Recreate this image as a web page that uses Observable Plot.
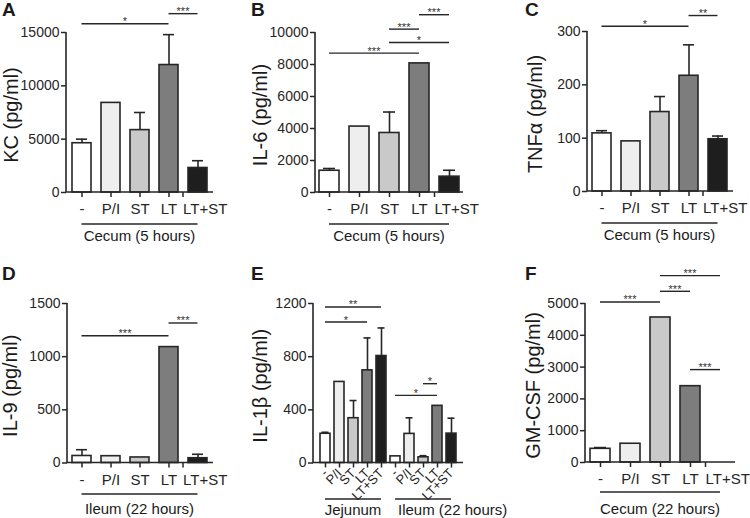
<!DOCTYPE html>
<html>
<head>
<meta charset="utf-8">
<script src="https://cdn.jsdelivr.net/npm/d3@7"></script>
<script src="https://cdn.jsdelivr.net/npm/@observablehq/plot@0.6"></script>
<style>
  html, body { margin: 0; padding: 0; background: #ffffff; }
  #fig { position: relative; width: 750px; height: 518px; overflow: hidden;
         font-family: "Liberation Sans", Arial, Helvetica, sans-serif; }
  .panel { position: absolute; }
  .panel svg { overflow: visible; }
  .letter { position: absolute; font-weight: bold; font-size: 19px; line-height: 1; color: #1a1a1a; }
</style>
</head>
<body>
<div id="fig"></div>
<script>
// ---------- data ----------
const cats = ["-", "P/I", "ST", "LT", "LT+ST"];
const barFills = ["#ffffff", "#eeeeee", "#c9c9c9", "#7d7d7d", "#1e1e1e"];

// A: KC, cecum 5 hours
const kcMean  = [4620, 8400, 5850, 11950, 2300];
const kcUpper = [5000, null, 7500, 14800, 2980];
const kcTicks = [0, 5000, 10000, 15000];
const kcSig = [["-", "LT", 15780, "*"], ["LT", "LT+ST", 16720, "***"]];

// B: IL-6, cecum 5 hours
const il6Mean  = [1360, 4120, 3720, 8070, 990];
const il6Upper = [1500, null, 5030, null, 1390];
const il6Ticks = [0, 2000, 4000, 6000, 8000, 10000];
const il6Sig = [["-", "LT", 8680, "***"], ["ST", "LT+ST", 9340, "*"], ["ST", "LT", 10180, "***"], ["LT", "LT+ST", 11080, "***"]];

// C: TNFa, cecum 5 hours
const tnfMean  = [109, 94, 149, 217, 98];
const tnfUpper = [114, null, 178, 275, 104];
const tnfTicks = [0, 100, 200, 300];
const tnfSig = [["-", "LT", 309, "*"], ["LT", "LT+ST", 329, "**"]];

// D: IL-9, ileum 22 hours
const il9Mean  = [66, 64, 52, 1090, 45];
const il9Upper = [125, null, null, null, 82];
const il9Ticks = [0, 500, 1000, 1500];
const il9Sig = [["-", "LT", 1192, "***"], ["LT", "LT+ST", 1312, "***"]];

// E: IL-1b, jejunum and ileum 22 hours
const il1bGroups = ["Jejunum", "Ileum"];
const il1bJejMean  = [220, 610, 337, 697, 805];
const il1bJejUpper = [231, null, 470, 941, 1016];
const il1bIleMean  = [50, 219, 43, 430, 221];
const il1bIleUpper = [null, 340, 55, null, 337];
const il1bTicks = [0, 400, 800, 1200];
const il1bSig = [["Jejunum|-", "Jejunum|LT+ST", 1170, "**"], ["Jejunum|-", "Jejunum|LT", 1057, "*"],
                 ["Ileum|-", "Ileum|LT", 505, "*"], ["Ileum|ST", "Ileum|LT", 593, "*"]];

// F: GM-CSF, cecum 22 hours
const gmMean  = [430, 590, 4560, 2400, 0];
const gmUpper = [470, null, null, null, null];
const gmTicks = [0, 1000, 2000, 3000, 4000, 5000];
const gmSig = [["-", "ST", 5032, "***"], ["ST", "LT", 5368, "***"], ["ST", "LT+ST", 5862, "***"], ["LT", "LT+ST", 2906, "***"]];

// ---------- drawing ----------
const FONT = '"Liberation Sans", Arial, Helvetica, sans-serif';
const INK = "#262626";
const fig = document.getElementById("fig");

function panel(o) {
  const rows = o.keys.map((k, i) => ({key: k, mean: o.mean[i], upper: o.upper[i], fill: o.fills[i]}));
  const errs = rows.filter(d => d.upper != null);
  const yMax = o.ticks[o.ticks.length - 1];
  const deco = (index, scales, values, dims) => {
    const x = scales.x, y = scales.y;
    const bw = typeof x.bandwidth === "function" ? x.bandwidth() : (x.bandwidth || 0);
    const cx = k => x(k) + bw / 2;
    const g = d3.create("svg:g").attr("class", "deco").attr("font-family", FONT);
    const fb = dims.height - dims.marginBottom;
    const left = dims.marginLeft, right = dims.width - dims.marginRight;
    g.append("path").attr("d", `M${left},${y(yMax)}V${y(0)}H${right}`)
      .attr("fill", "none").attr("stroke", INK).attr("stroke-width", 1.6);
    for (const [a, b, lev, lab] of o.sig) {
      g.append("line").attr("x1", cx(a)).attr("x2", cx(b)).attr("y1", y(lev)).attr("y2", y(lev))
        .attr("stroke", INK).attr("stroke-width", 1.4);
      g.append("text").attr("x", (cx(a) + cx(b)) / 2).attr("y", y(lev) + 1.5)
        .attr("text-anchor", "middle").attr("font-size", 11).attr("fill", "#333").text(lab);
    }
    for (const gr of o.groups) {
      const x1 = cx(gr.from), x2 = cx(gr.to);
      g.append("line").attr("x1", x1).attr("x2", x2).attr("y1", fb + gr.lineOff).attr("y2", fb + gr.lineOff)
        .attr("stroke", INK).attr("stroke-width", 1.4);
      g.append("text").attr("x", gr.anchor === "start" ? x1 + 3 : (x1 + x2) / 2).attr("y", fb + gr.textOff)
        .attr("text-anchor", gr.anchor || "middle").attr("dominant-baseline", "central")
        .attr("font-size", 15).attr("fill", "#1a1a1a").text(gr.label);
    }
    const cy = (dims.marginTop + fb) / 2 + 3;
    g.append("text").attr("transform", `translate(${o.ylabelX},${cy}) rotate(-90)`)
      .attr("text-anchor", "middle").attr("dominant-baseline", "central")
      .attr("font-size", 20).attr("fill", "#1a1a1a").text(o.ylabel);
    return g.node();
  };
  const fmt = o.fmt || (d => d);
  const xAxes = o.rotate
    ? [Plot.axisX({tickSize: 5, tickPadding: o.tickPad, tickRotate: o.rotate,
                   tickFormat: fmt, color: INK, strokeWidth: 1.5, label: null})]
    : [Plot.axisX({ticks: o.keys.slice(0, -1), tickSize: 5, tickPadding: o.tickPad,
                   tickFormat: fmt, color: INK, strokeWidth: 1.5, label: null}),
       Plot.axisX({ticks: o.keys.slice(-1), tickSize: 5, tickPadding: o.tickPad,
                   tickFormat: fmt, color: INK, strokeWidth: 1.5, label: null, textAnchor: "start", dx: -15})];
  const svg = Plot.plot({
    width: 250, height: o.height,
    marginLeft: o.ml, marginRight: o.mr, marginTop: o.mt, marginBottom: o.mb,
    style: {background: "transparent", overflow: "visible", fontFamily: FONT, fontSize: o.yFont + "px", color: INK},
    x: {type: "band", domain: o.keys, paddingInner: o.pi, paddingOuter: o.po},
    y: {domain: [0, yMax]},
    color: {type: "identity"},
    marks: [
      Plot.barY(rows, {x: "key", y: "mean", fill: "fill", stroke: INK, strokeWidth: 1.6}),
      Plot.ruleX(errs, {x: "key", y1: "mean", y2: "upper", stroke: INK, strokeWidth: 1.6}),
      Plot.tickY(errs, {x: "key", y: "upper", stroke: INK, strokeWidth: 1.6, insetLeft: o.capInset, insetRight: o.capInset}),
      Plot.axisY({ticks: o.ticks, tickFormat: d => String(d), tickSize: 5, tickPadding: 2,
                  color: INK, strokeWidth: 1.5, label: null}),
      ...xAxes,
      deco
    ]
  });
  const wrap = document.createElement("div");
  wrap.className = "panel";
  wrap.style.left = o.left + "px";
  wrap.style.top = o.top + "px";
  wrap.appendChild(svg);
  fig.appendChild(wrap);
  // size the axis tick labels (y labels sit left of the frame, x labels below it)
  const sr = svg.getBoundingClientRect();
  svg.querySelectorAll("text").forEach(t => {
    if (t.closest(".deco")) return;
    const r = t.getBoundingClientRect();
    if (r.right - sr.left <= o.ml + 0.5) t.style.fontSize = o.yFont + "px";
    else if (r.top - sr.top >= o.height - o.mb) t.style.fontSize = o.xFont + "px";
  });
  const L = document.createElement("div");
  L.className = "letter";
  L.style.left = (o.left + o.letterX) + "px";
  L.style.top = (o.top + o.letterY) + "px";
  L.textContent = o.letter;
  fig.appendChild(L);
}

const base5 = {keys: cats, fills: barFills, pi: 0.34, po: 0.12, capInset: 4, tickPad: 6, xFont: 15, yFont: 14};

panel({...base5, letter: "A", left: 0, top: 0, height: 259, ml: 66, mr: 37, mt: 32, mb: 67,
  mean: kcMean, upper: kcUpper, ticks: kcTicks, sig: kcSig, ylabel: "KC (pg/ml)", ylabelX: 11,
  groups: [{from: "-", to: "LT+ST", label: "Cecum (5 hours)", lineOff: 32, textOff: 43}], letterX: 2, letterY: 0});

panel({...base5, letter: "B", left: 250, top: 0, height: 259, ml: 65, mr: 37, mt: 32, mb: 67,
  mean: il6Mean, upper: il6Upper, ticks: il6Ticks, sig: il6Sig, ylabel: "IL-6 (pg/ml)", ylabelX: 10,
  groups: [{from: "-", to: "LT+ST", label: "Cecum (5 hours)", lineOff: 32, textOff: 43}], letterX: 1, letterY: 0});

panel({...base5, letter: "C", left: 500, top: 0, height: 259, ml: 87, mr: 17, mt: 31, mb: 68,
  mean: tnfMean, upper: tnfUpper, ticks: tnfTicks, sig: tnfSig, ylabel: "TNFα (pg/ml)", ylabelX: 35,
  groups: [{from: "-", to: "LT+ST", label: "Cecum (5 hours)", lineOff: 32, textOff: 43}], letterX: 25, letterY: 0});

panel({...base5, letter: "D", left: 0, top: 260, height: 258, ml: 67, mr: 37, mt: 43, mb: 55.5,
  mean: il9Mean, upper: il9Upper, ticks: il9Ticks, sig: il9Sig, ylabel: "IL-9 (pg/ml)", ylabelX: 10,
  groups: [{from: "-", to: "LT+ST", label: "Ileum (22 hours)", lineOff: 31.5, textOff: 46}], letterX: 2, letterY: 4});

const eKeys = il1bGroups.flatMap(g => cats.map(c => g + "|" + c));
panel({letter: "E", left: 250, top: 260, height: 258, ml: 63, mr: 37, mt: 43, mb: 55.5,
  keys: eKeys, fills: [...barFills, ...barFills], pi: 0.27, po: 0.15, capInset: 1.5, tickPad: 3, rotate: -45,
  xFont: 13, yFont: 14, fmt: d => d.split("|")[1],
  mean: [...il1bJejMean, ...il1bIleMean], upper: [...il1bJejUpper, ...il1bIleUpper],
  ticks: il1bTicks, sig: il1bSig, ylabel: "IL-1β (pg/ml)", ylabelX: 10,
  groups: [{from: "Jejunum|-", to: "Jejunum|LT+ST", label: "Jejunum", lineOff: 36.5, textOff: 46.5},
           {from: "Ileum|-", to: "Ileum|LT+ST", label: "Ileum (22 hours)", lineOff: 36.5, textOff: 46.5, anchor: "start"}],
  letterX: 1, letterY: 4});

panel({...base5, letter: "F", left: 500, top: 260, height: 258, ml: 85, mr: 15, mt: 43, mb: 56,
  mean: gmMean, upper: gmUpper, ticks: gmTicks, sig: gmSig, ylabel: "GM-CSF (pg/ml)", ylabelX: 33,
  groups: [{from: "-", to: "LT+ST", label: "Cecum (22 hours)", lineOff: 30, textOff: 46}], letterX: 25, letterY: 4});
</script>
</body>
</html>
